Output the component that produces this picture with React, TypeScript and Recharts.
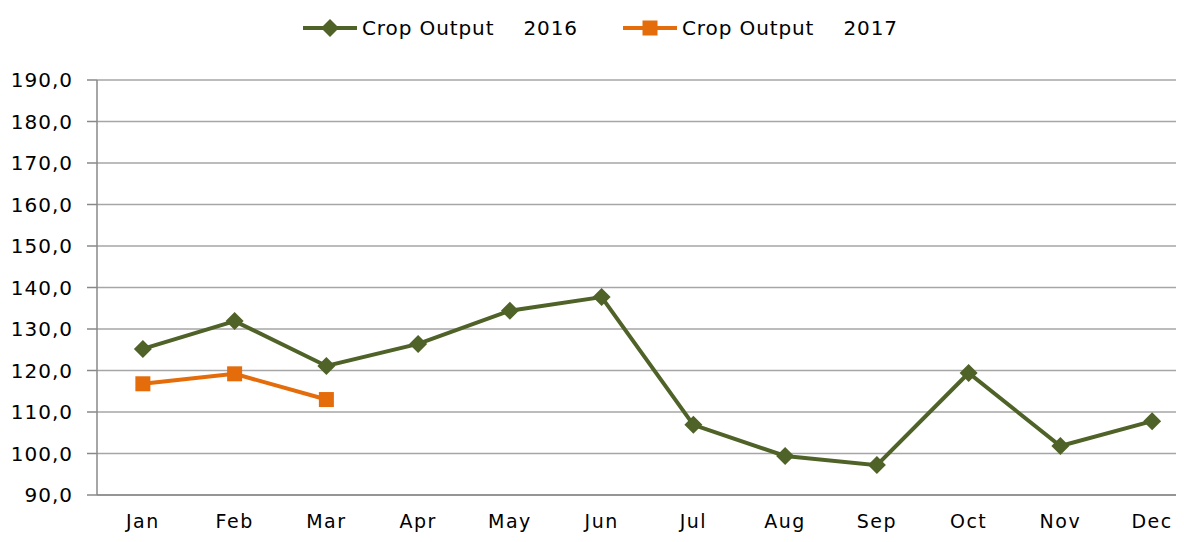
import { LineChart, Line, XAxis, YAxis, CartesianGrid } from "recharts"

const MONTHS = ["Jan", "Feb", "Mar", "Apr", "May", "Jun", "Jul", "Aug", "Sep", "Oct", "Nov", "Dec"]
const OUTPUT_2016 = [125.2, 131.9, 121.1, 126.4, 134.4, 137.7, 106.9, 99.4, 97.2, 119.4, 101.8, 107.8]
const OUTPUT_2017: (number | null)[] = [116.8, 119.2, 113.0, null, null, null, null, null, null, null, null, null]
const Y_TICKS = [90, 100, 110, 120, 130, 140, 150, 160, 170, 180, 190]
const BOUNDARY_TICKS = [0, 1, 2, 3, 4, 5, 6, 7, 8, 9, 10, 11, 12]
const CENTER_TICKS = MONTHS.map((_, i) => i + 0.5)

const GREEN = "#4f6228"
const ORANGE = "#e46c0a"
const AXIS = "#888888"
const FONT = "'DejaVu Sans', sans-serif"

const data = MONTHS.map((m, i) => ({
  pos: i + 0.5,
  month: m,
  y2016: OUTPUT_2016[i],
  y2017: OUTPUT_2017[i],
}))

function Diamond(props: any) {
  const { cx, cy, key } = props
  if (cx == null || cy == null || props.value == null) return <g key={key} />
  const r = 9
  return (
    <path
      key={key}
      d={`M${cx},${cy - r}L${cx + r},${cy}L${cx},${cy + r}L${cx - r},${cy}Z`}
      fill={GREEN}
    />
  )
}

function Square(props: any) {
  const { cx, cy, key } = props
  if (cx == null || cy == null || props.value == null) return <g key={key} />
  const s = 7.5
  return <rect key={key} x={cx - s} y={cy - s} width={s * 2} height={s * 2} fill={ORANGE} />
}

function LegendItem({ color, label, shape, gap }: { color: string; label: string; shape: "diamond" | "square"; gap: number }) {
  return (
    <span style={{ display: "inline-flex", alignItems: "center", marginRight: gap }}>
      <svg width={56} height={20} style={{ marginRight: 4 }}>
        <line x1={1} y1={10} x2={55} y2={10} stroke={color} strokeWidth={4} />
        {shape === "diamond" ? (
          <path d="M28,1L37,10L28,19L19,10Z" fill={color} />
        ) : (
          <rect x={20.5} y={2.5} width={15} height={15} fill={color} />
        )}
      </svg>
      <span style={{ whiteSpace: "pre" }}>{label}</span>
    </span>
  )
}

export default function App() {
  return (
    <div style={{ margin: -8, width: 1184, height: 542, overflow: "hidden", position: "relative", background: "#fff", fontFamily: FONT }}>
      <div
        style={{
          position: "absolute",
          top: 16,
          left: 302,
          fontSize: 20,
          color: "#000",
          display: "flex",
          letterSpacing: 0.9,
        }}
      >
        <LegendItem color={GREEN} label={"Crop Output    2016"} shape="diamond" gap={44} />
        <LegendItem color={ORANGE} label={"Crop Output    2017"} shape="square" gap={0} />
      </div>
      <LineChart width={1200} height={547} data={data} margin={{ top: 80, right: 2, bottom: 0, left: 0 }}>
        <CartesianGrid horizontal vertical={false} stroke="#a6a6a6" strokeWidth={1.5} />
        <XAxis
          xAxisId="grid"
          type="number"
          dataKey="pos"
          domain={[0, 12]}
          ticks={BOUNDARY_TICKS}
          tick={false}
          tickSize={7}
          height={8}
          stroke={AXIS}
          strokeWidth={1.5}
        />
        <XAxis
          xAxisId="labels"
          type="number"
          dataKey="pos"
          domain={[0, 12]}
          ticks={CENTER_TICKS}
          tickFormatter={(v: number) => MONTHS[Math.floor(v)]}
          axisLine={false}
          tickLine={false}
          tickSize={0}
          tickMargin={12}
          height={44}
          tick={{ fontSize: 19, fill: "#000", fontFamily: FONT, letterSpacing: 1.5 }}
        />
        <YAxis
          domain={[90, 190]}
          ticks={Y_TICKS}
          width={97}
          tickSize={10}
          tickMargin={14}
          stroke={AXIS}
          strokeWidth={1.5}
          tickFormatter={(v: number) => v.toFixed(1).replace(".", ",")}
          tick={{ fontSize: 20, fill: "#000", fontFamily: FONT, letterSpacing: 1 }}
        />
        <Line
          xAxisId="grid"
          type="linear"
          dataKey="y2016"
          stroke={GREEN}
          strokeWidth={4}
          dot={Diamond}
          activeDot={false}
          isAnimationActive={false}
        />
        <Line
          xAxisId="grid"
          type="linear"
          dataKey="y2017"
          stroke={ORANGE}
          strokeWidth={4}
          dot={Square}
          activeDot={false}
          connectNulls={false}
          isAnimationActive={false}
        />
      </LineChart>
    </div>
  )
}
